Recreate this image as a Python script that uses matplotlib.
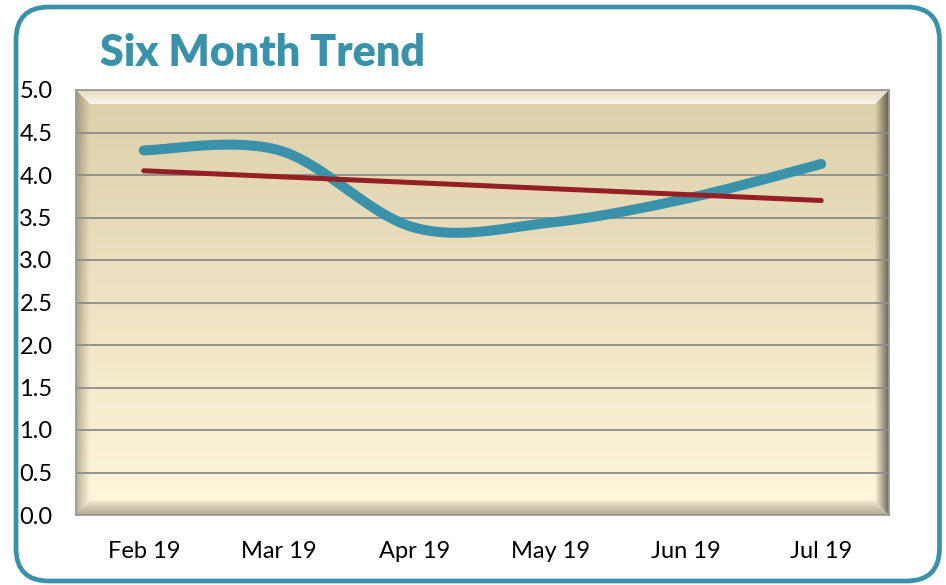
import numpy as np
import matplotlib
matplotlib.use("Agg")
import matplotlib.pyplot as plt
from matplotlib.patches import Polygon, FancyBboxPatch
from matplotlib.colors import to_rgb

# chart data
months = ["Feb 19", "Mar 19", "Apr 19", "May 19", "Jun 19", "Jul 19"]
scores = [4.29, 4.29, 3.38, 3.44, 3.72, 4.13]
y_ticks = [0.0, 0.5, 1.0, 1.5, 2.0, 2.5, 3.0, 3.5, 4.0, 4.5, 5.0]

TEAL = "#3A92AA"
RED = "#951F24"
GRID = "#8C8C8C"

plt.rcParams["font.family"] = ["Lato", "DejaVu Sans"]

W, H, DPI = 946, 585, 100


def smooth_line(xs, ys, steps=60):
    # Excel style smoothed line: cubic bezier with control points at 1/6 of neighbour chord
    pts = np.column_stack([xs, ys]).astype(float)
    n = len(pts)
    out = []
    for i in range(n - 1):
        p_prev = pts[i - 1] if i > 0 else pts[i]
        p_next2 = pts[i + 2] if i + 2 < n else pts[i + 1]
        p0, p3 = pts[i], pts[i + 1]
        c1 = p0 + (p3 - p_prev) / 6.0
        c2 = p3 - (p_next2 - p0) / 6.0
        t = np.linspace(0, 1, steps)[:, None]
        seg = ((1 - t) ** 3) * p0 + 3 * ((1 - t) ** 2) * t * c1 + 3 * (1 - t) * t ** 2 * c2 + t ** 3 * p3
        out.append(seg if i == 0 else seg[1:])
    out = np.vstack(out)
    return out[:, 0], out[:, 1]


def gradient_patch(ax, poly, extent, color, a_from, a_to, vertical):
    # overlay of one colour whose alpha ramps across the strip, clipped to poly
    rgb = to_rgb(color)
    ramp = np.linspace(a_from, a_to, 128)
    if vertical:
        img = np.zeros((128, 2, 4))
        img[:, :, :3] = rgb
        img[:, :, 3] = ramp[:, None]
    else:
        img = np.zeros((2, 128, 4))
        img[:, :, :3] = rgb
        img[:, :, 3] = ramp[None, :]
    im = ax.imshow(img, extent=extent, transform=ax.transAxes, origin="lower",
                   aspect="auto", interpolation="bilinear", zorder=0.5)
    clip = Polygon(poly, closed=True, transform=ax.transAxes, facecolor="none", edgecolor="none")
    ax.add_patch(clip)
    im.set_clip_path(clip)


fig = plt.figure(figsize=(W / DPI, H / DPI), dpi=DPI)

# rounded teal frame round the whole chart
frame = FancyBboxPatch((0.16, 0.04), 9.235, 5.74,
                       boxstyle="round,pad=0,rounding_size=0.33",
                       transform=fig.dpi_scale_trans, facecolor="none",
                       edgecolor=TEAL, linewidth=3.4, zorder=-1)
fig.patches.append(frame)

fig.text(100 / W, 1 - 66 / H, "Six Month Trend", color=TEAL, fontsize=31,
         fontweight="heavy", ha="left", va="baseline")

left, right, top, bottom = 76, 889, 90, 515
ax = fig.add_axes([left / W, 1 - bottom / H, (right - left) / W, (bottom - top) / H])

# background: tan at top fading to cream
bg = np.linspace(0, 1, 256)[:, None]
c_top = np.array(to_rgb("#DCCFAA"))
c_bot = np.array(to_rgb("#FFF7DC"))
bg_img = (c_bot[None, None, :] * (1 - bg[:, :, None]) + c_top[None, None, :] * bg[:, :, None])
bg_img = np.repeat(bg_img, 2, axis=1)
ax.imshow(bg_img, extent=(0, 1, 0, 1), transform=ax.transAxes, origin="lower",
          aspect="auto", interpolation="bilinear", zorder=0)

# bevelled edge of the plot area
bw = 14 / (right - left)
bh = 14 / (bottom - top)
gradient_patch(ax, [(0, 1), (1, 1), (1 - bw, 1 - bh), (bw, 1 - bh)], (0, 1, 1 - bh, 1),
               "white", 0.8, 0.25, True)
gradient_patch(ax, [(0, 0), (0, 1), (bw, 1 - bh), (bw, bh)], (0, bw, 0, 1),
               "#3A3020", 0.35, 0.0, False)
gradient_patch(ax, [(1, 0), (1, 1), (1 - bw, 1 - bh), (1 - bw, bh)], (1 - bw, 1, 0, 1),
               "#2E2A1C", 0.0, 0.7, False)
gradient_patch(ax, [(0, 0), (1, 0), (1 - bw, bh), (bw, bh)], (0, 1, 0, bh),
               "#3A3020", 0.4, 0.08, True)

x = np.arange(len(months))
ax.set_xlim(-0.5, len(months) - 0.5)
ax.set_ylim(0, 5)

for yv in y_ticks:
    ax.axhline(yv, color=GRID, linewidth=1.3, zorder=1)

sx, sy = smooth_line(x, scores)
ax.plot(sx, sy, color=TEAL, linewidth=7.2, solid_capstyle="round", zorder=3)

slope, icpt = np.polyfit(x, scores, 1)
ax.plot(x[[0, -1]], slope * x[[0, -1]] + icpt, color=RED, linewidth=3.6,
        solid_capstyle="round", zorder=4)

ax.set_xticks(x)
ax.set_xticklabels(months)
ax.set_yticks(y_ticks)
ax.set_yticklabels([f"{v:.1f}" for v in y_ticks])
ax.tick_params(axis="both", length=0, labelsize=17, colors="black")
ax.tick_params(axis="y", pad=17)
ax.tick_params(axis="x", pad=19)
for sp in ax.spines.values():
    sp.set_color("#9A9A9A")
    sp.set_linewidth(1.3)

fig.savefig("out.png", dpi=DPI)
